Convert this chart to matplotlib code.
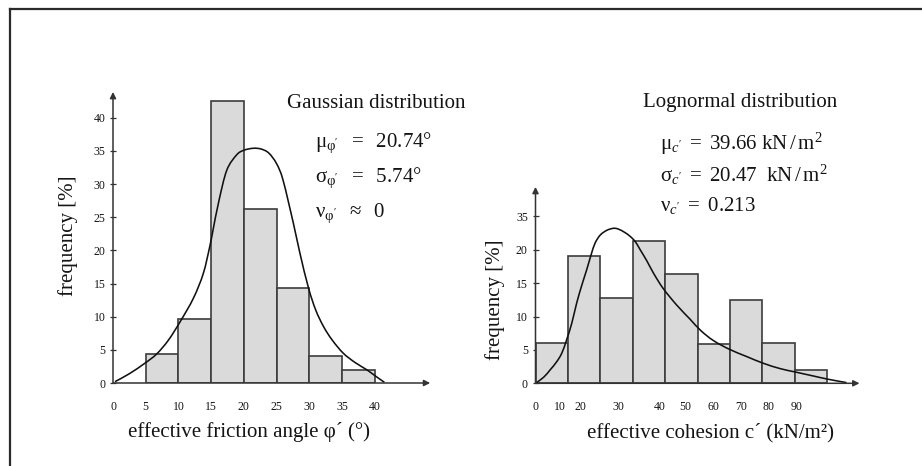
import matplotlib
matplotlib.use("Agg")
import matplotlib.pyplot as plt
from matplotlib.lines import Line2D
from matplotlib.path import Path
from matplotlib.patches import PathPatch

# ---------------- data ----------------
phi_bin_left = [5, 10, 15, 20, 25, 30, 35]
phi_freq = [4.3, 9.7, 42.6, 26.3, 14.3, 4.0, 2.0]
phi_ticks = [0, 5, 10, 15, 20, 25, 30, 35, 40]
phi_yticks = [0, 5, 10, 15, 20, 25, 30, 35, 40]

phi_curve_x = [0.3, 2.5, 4.9, 6.7, 8.5, 10.3, 12.3, 13.8, 14.8, 15.3, 16.2, 17.4, 18.9,
               20.0, 21.4, 22.6, 23.8, 25.0, 26.0, 27.6, 28.6, 29.9, 31.0, 32.2,
               33.5, 35.2, 37.0, 38.8, 40.2, 41.5]
phi_curve_y = [0.2, 1.4, 3.0, 4.4, 6.5, 9.3, 12.8, 16.5, 20.6, 23.1, 27.5, 32.1, 34.4,
               35.1, 35.4, 35.3, 34.7, 33.1, 30.6, 24.0, 19.5, 14.3, 11.0, 8.5,
               6.5, 4.5, 3.1, 2.0, 1.0, 0.1]

c_bin_left = [0, 10, 20, 30, 40, 50, 60, 70, 80]
c_freq = [6.1, 19.0, 12.7, 21.3, 16.3, 5.9, 12.5, 6.0, 2.0]
c_tick_pos = [0, 7.6, 13.9, 25.6, 38.4, 46.1, 54.9, 63.6, 71.9, 80.6]
c_tick_labels = ["0", "10", "20", "30", "40", "50", "60", "70", "80", "90"]
c_ytick_pos = [0, 5, 10, 15, 20, 25]
c_ytick_labels = ["0", "5", "10", "15", "20", "35"]

c_curve_x = [0.0, 2.5, 4.5, 6.5, 8.1, 9.6, 11.2, 12.7, 14.3, 15.8, 17.2, 18.4, 20.0,
             22.0, 24.0, 25.5, 27.5, 29.2, 30.8, 32.3, 34.4, 36.4, 39.4, 43.6, 47.7,
             51.0, 54.9, 59.8, 65.2, 70.3, 75.5, 80.1, 85.7, 90.4, 96.0]
c_curve_y = [0.0, 0.9, 2.0, 3.2, 4.5, 6.5, 9.0, 12.0, 14.7, 17.0, 19.3, 21.0, 22.2,
             22.9, 23.2, 23.1, 22.6, 22.0, 21.2, 20.0, 18.3, 16.5, 14.2, 11.7, 9.6,
             7.9, 6.4, 5.1, 4.0, 3.0, 2.2, 1.7, 1.1, 0.6, 0.1]

# ---------------- style ----------------
plt.rcParams['mathtext.fontset'] = 'custom'
plt.rcParams['mathtext.rm'] = 'Liberation Serif'
plt.rcParams['mathtext.it'] = 'Liberation Serif:italic'
plt.rcParams['mathtext.bf'] = 'Liberation Serif:bold'
SERIF = ['Liberation Serif', 'DejaVu Serif']
TXT = '#141414'
AXC = '#333333'
BARFC = '#dadada'
BAREC = '#3c3c3c'

W, H = 922, 466
fig = plt.figure(figsize=(W / 100, H / 100), dpi=100)
fig.patch.set_facecolor('white')


def rect(x0, x1, yb, yt):
    return [x0 / W, 1 - yb / H, (x1 - x0) / W, (yb - yt) / H]


def fx(px):
    return px / W


def fy(py):
    return 1 - py / H


def smooth_path(xs, ys):
    """Catmull-Rom curve through the read points, expressed as Bezier path."""
    pts = list(zip(xs, ys))
    verts = [pts[0]]
    codes = [Path.MOVETO]
    n = len(pts)
    for i in range(n - 1):
        p0 = pts[i - 1] if i > 0 else pts[i]
        p1 = pts[i]
        p2 = pts[i + 1]
        p3 = pts[i + 2] if i + 2 < n else pts[i + 1]
        c1 = (p1[0] + (p2[0] - p0[0]) / 6, p1[1] + (p2[1] - p0[1]) / 6)
        c2 = (p2[0] - (p3[0] - p1[0]) / 6, p2[1] - (p3[1] - p1[1]) / 6)
        verts += [c1, c2, p2]
        codes += [Path.CURVE4] * 3
    return Path(verts, codes)


# frame (top & left only visible)
fig.add_artist(Line2D([fx(10), fx(922)], [fy(8.5), fy(8.5)], color='#2a2a2a', lw=1.6))
fig.add_artist(Line2D([fx(10), fx(10)], [fy(8.5), fy(466)], color='#2a2a2a', lw=1.6))


def setup(ax, xmax_arrow, ymax_arrow):
    for s in ax.spines.values():
        s.set_visible(False)
    ax.set_facecolor('none')
    arr = dict(arrowstyle='-|>', lw=1.1, color=AXC, mutation_scale=9,
               shrinkA=0, shrinkB=0)
    ax.annotate('', xy=(xmax_arrow, 0), xytext=(0, 0), arrowprops=arr, zorder=5)
    ax.annotate('', xy=(0, ymax_arrow), xytext=(0, 0), arrowprops=arr, zorder=5)
    ax.tick_params(axis='y', direction='inout', length=5, width=0.9, color=AXC,
                   pad=3, labelsize=8.5, labelcolor=TXT)
    ax.tick_params(axis='x', length=0, pad=13, labelsize=8.5, labelcolor=TXT)
    for lab in ax.get_xticklabels() + ax.get_yticklabels():
        lab.set_fontfamily(SERIF)


# ---------------- left panel ----------------
axL = fig.add_axes(rect(113, 113 + 50 * 6.54, 383, 383 - 45 * 6.63))
axL.set_xlim(0, 50)
axL.set_ylim(0, 45)
axL.bar(phi_bin_left, phi_freq, width=5, align='edge', color=BARFC,
        edgecolor=BAREC, linewidth=1.2, zorder=2)
axL.add_patch(PathPatch(smooth_path(phi_curve_x, phi_curve_y), fill=False,
                        edgecolor='#111111', lw=1.15, zorder=3))
axL.set_xticks(phi_ticks)
axL.set_xticklabels([str(t) for t in phi_ticks])
axL.set_yticks(phi_yticks)
axL.set_yticklabels([str(t) for t in phi_yticks])
setup(axL, 48.5, 43.9)

# ---------------- right panel ----------------
axR = fig.add_axes(rect(535.5, 535.5 + 103 * 3.24, 383.3, 383.3 - 30 * 6.68))
axR.set_xlim(0, 103)
axR.set_ylim(0, 30)
axR.bar(c_bin_left, c_freq, width=10, align='edge', color=BARFC,
        edgecolor=BAREC, linewidth=1.2, zorder=2)
axR.add_patch(PathPatch(smooth_path(c_curve_x, c_curve_y), fill=False,
                        edgecolor='#111111', lw=1.15, zorder=3))
axR.set_xticks(c_tick_pos)
axR.set_xticklabels(c_tick_labels)
axR.set_yticks(c_ytick_pos)
axR.set_yticklabels(c_ytick_labels)
setup(axR, 100, 29.4)

# ---------------- texts ----------------
fs = 15
fig.text(fx(68), fy(236), 'frequency [%]', rotation=90, ha='center', va='center',
         fontsize=fs, family=SERIF, color=TXT)
fig.text(fx(495), fy(300), 'frequency [%]', rotation=90, ha='center', va='center',
         fontsize=fs, family=SERIF, color=TXT)
fig.text(fx(249), fy(432), 'effective friction angle φ´ (°)', ha='center', va='center',
         fontsize=fs, family=SERIF, color=TXT)
fig.text(fx(710), fy(433), 'effective cohesion c´ (kN/m²)', ha='center', va='center',
         fontsize=fs, family=SERIF, color=TXT)

fig.text(fx(287), fy(103), 'Gaussian distribution', ha='left', va='center',
         fontsize=fs, family=SERIF, color=TXT)
fig.text(fx(315), fy(143), r"$\mathrm{μ}_{\mathrm{φ}'}\ \ =\ \ \mathrm{20.74°}$", ha='left',
         va='center', fontsize=fs, color=TXT)
fig.text(fx(315), fy(178), r"$\mathrm{σ}_{\mathrm{φ}'}\ \ =\ \ \mathrm{5.74°}$", ha='left',
         va='center', fontsize=fs, color=TXT)
fig.text(fx(315), fy(213), r"$\mathrm{ν}_{\mathrm{φ}'}\ \ \approx\ \ \mathrm{0}$", ha='left',
         va='center', fontsize=fs, color=TXT)

fig.text(fx(643), fy(103), 'Lognormal distribution', ha='left', va='center',
         fontsize=fs, family=SERIF, color=TXT)
fig.text(fx(660), fy(144), r"$\mathrm{μ}_{c'}\ =\ \mathrm{39.66\ kN\,/\,m^2}$", ha='left',
         va='center', fontsize=fs, color=TXT)
fig.text(fx(660), fy(175), r"$\mathrm{σ}_{c'}\ =\ \mathrm{20.47\ \ kN\,/\,m^2}$", ha='left',
         va='center', fontsize=fs, color=TXT)
fig.text(fx(660), fy(205), r"$\mathrm{ν}_{c'}\ =\ \mathrm{0.213}$", ha='left', va='center',
         fontsize=fs, color=TXT)

fig.savefig('out.png', dpi=100, facecolor='white')
